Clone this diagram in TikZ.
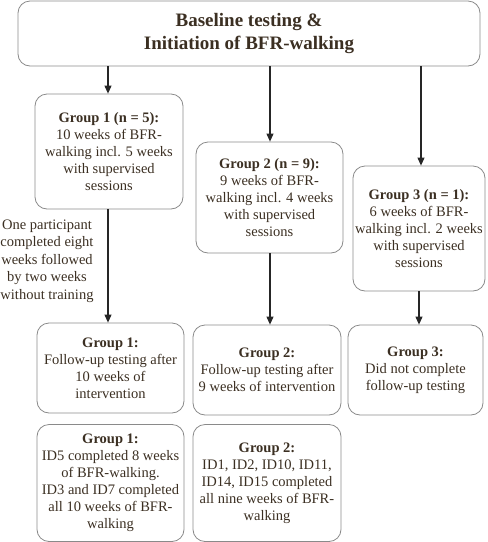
\documentclass[tikz,border=0pt]{standalone}
\usepackage{fontspec}
\setmainfont{Liberation Serif}
\usetikzlibrary{arrows.meta}
\definecolor{txt}{HTML}{3B2F22}
\definecolor{bord}{HTML}{8A8A8A}
\begin{document}
\begin{tikzpicture}[x=1pt,y=-1pt,
  box/.style={draw=bord,line width=0.8pt,rounded corners=12pt,inner sep=0pt,align=center,text=txt,
    font=\fontsize{14.5}{17}\selectfont},
  arr/.style={-{Triangle[length=8pt,width=7pt]},line width=1.1pt,draw=black!85}]
\useasboundingbox (0,0) rectangle (488,542);
\node[box,minimum width=462pt,minimum height=65pt,font=\fontsize{19}{23}\selectfont\bfseries] (top) at (249,33.5)
  {Baseline testing \&\\Initiation of BFR-walking};
\node[box,minimum width=148pt,minimum height=115pt] (g1) at (109,151.5)
  {\textbf{Group 1 (n = 5):}\\10 weeks of BFR-\\walking incl. 5 weeks\\with supervised\\sessions};
\node[box,minimum width=147pt,minimum height=111pt] (g2) at (269.5,197.5)
  {\textbf{Group 2 (n = 9):}\\9 weeks of BFR-\\walking incl. 4 weeks\\with supervised\\sessions};
\node[box,minimum width=132pt,minimum height=125pt] (g3) at (419,228.5)
  {\textbf{Group 3 (n = 1):}\\6 weeks of BFR-\\walking incl. 2 weeks\\with supervised\\sessions};
\node[box,minimum width=147pt,minimum height=90pt] (f1) at (110.5,368)
  {\textbf{Group 1:}\\Follow-up testing after\\10 weeks of\\intervention};
\node[box,minimum width=148pt,minimum height=90pt] (f2) at (267,370)
  {\textbf{Group 2:}\\Follow-up testing after\\9 weeks of intervention};
\node[box,minimum width=135pt,minimum height=90pt] (f3) at (415.5,370)
  {\textbf{Group 3:}\\Did not complete\\follow-up testing};
\node[box,minimum width=147pt,minimum height=117pt] (b1) at (110.5,483)
  {\textbf{Group 1:}\\ID5 completed 8 weeks\\of BFR-walking.\\ID3 and ID7 completed\\all 10 weeks of BFR-\\walking};
\node[box,minimum width=148pt,minimum height=117pt] (b2) at (267,483)
  {\textbf{Group 2:}\\ID1, ID2, ID10, ID11,\\ID14, ID15 completed\\all nine weeks of BFR-\\walking};
\node[align=center,text=txt,inner sep=0pt,font=\fontsize{14.5}{17.5}\selectfont] (note) at (47,261)
  {One participant\\completed eight\\weeks followed\\by two weeks\\without training};
\draw[arr] (top.south -| 108,0) -- (g1.north -| 108,0);
\draw[arr] (top.south -| 270,0) -- (g2.north -| 270,0);
\draw[arr] (top.south -| 421,0) -- (g3.north -| 421,0);
\draw[arr] (g1.south -| 108,0) -- (f1.north -| 108,0);
\draw[arr] (g2.south -| 270,0) -- (f2.north -| 270,0);
\draw[arr] (g3.south -| 419,0) -- (f3.north -| 419,0);
\end{tikzpicture}
\end{document}
